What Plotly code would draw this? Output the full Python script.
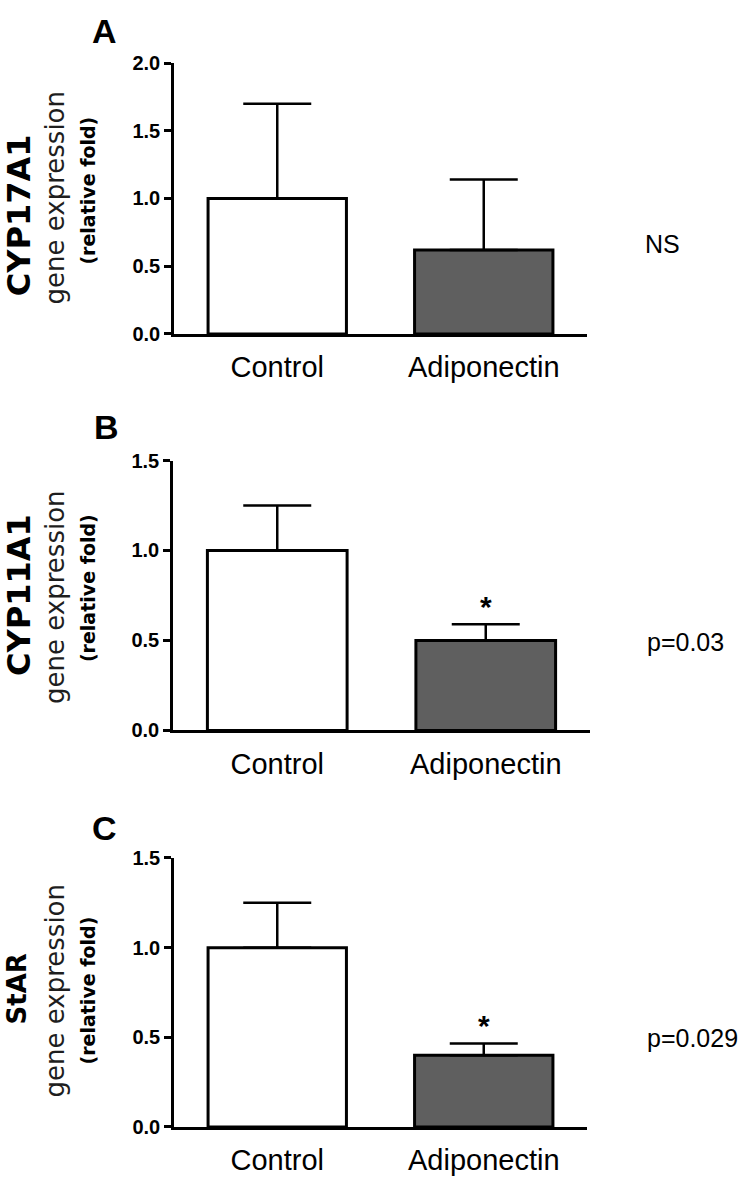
import plotly.graph_objects as go

W, H = 746, 1186

categories = ["Control", "Adiponectin"]
panel_letters = ["A", "B", "C"]
genes = ["CYP17A1", "CYP11A1", "StAR"]
means = {
    "CYP17A1": [1.00, 0.62],
    "CYP11A1": [1.00, 0.50],
    "StAR": [1.00, 0.40],
}
errors = {
    "CYP17A1": [0.70, 0.52],
    "CYP11A1": [0.25, 0.09],
    "StAR": [0.25, 0.065],
}
stars = {
    "CYP17A1": ["", ""],
    "CYP11A1": ["", "*"],
    "StAR": ["", "*"],
}
stats_text = ["NS", "p=0.03", "p=0.029"]
y_max = [2.0, 1.5, 1.5]
y_ticks = [[0.0, 0.5, 1.0, 1.5, 2.0], [0.0, 0.5, 1.0, 1.5], [0.0, 0.5, 1.0, 1.5]]

bar_colors = ["#ffffff", "#5f5f5f"]

# layout in pixels (left, right, top, bottom)
boxes = [(174, 587, 53, 329), (173, 590, 458, 733), (174, 587, 863, 1137)]
letter_pos = [(104, 20), (106, 424), (104, 832)]
title_pos = [
    [(19, 208), (55, 190), (88, 183)],
    [(19, 595), (55, 597), (88, 588)],
    [(17, 997), (55, 998), (88, 998)],
]
gene_font_size = [32, 32, 26]
stats_pos = [(643, 237), (645, 643), (645, 1046)]

FONT = "Liberation Sans, Arial, sans-serif"
WIDE = "DejaVu Sans, Verdana, sans-serif"

def px(x):
    return x / W

def py(y):
    return 1 - y / H

fig = go.Figure()
annotations = []
layout = {}

for i, gene in enumerate(genes):
    n = "" if i == 0 else str(i + 1)
    xa, ya = "x" + n, "y" + n
    l, r, t, b = boxes[i]
    fig.add_trace(go.Bar(
        x=categories, y=means[gene], xaxis=xa, yaxis=ya,
        width=0.67,
        marker=dict(color=bar_colors, line=dict(color="black", width=3)),
        error_y=dict(type="data", array=errors[gene], arrayminus=[0, 0], symmetric=False,
                     color="black", thickness=2.5, width=34),
        showlegend=False, hoverinfo="skip",
    ))
    layout["xaxis" + n] = dict(
        domain=[px(l), px(r)], anchor=ya, range=[-0.5, 1.5],
        showline=True, linecolor="black", linewidth=2.5, ticks="",
        tickfont=dict(family=FONT, size=29, color="black"),
        showgrid=False, zeroline=False, ticklabelstandoff=6,
    )
    layout["yaxis" + n] = dict(
        domain=[py(b), py(t)], anchor=xa, range=[0, y_max[i]],
        tickvals=y_ticks[i], ticktext=["%.1f" % v for v in y_ticks[i]],
        showline=True, linecolor="black", linewidth=2.5,
        ticks="outside", ticklen=7, tickwidth=2.5, tickcolor="black",
        tickfont=dict(family=FONT, size=20, color="black", weight="bold"),
        showgrid=False, zeroline=False,
    )
    # asterisks
    for j, s in enumerate(stars[gene]):
        if s:
            annotations.append(dict(
                x=categories[j], y=means[gene][j] + errors[gene][j], xref=xa, yref=ya,
                text="<b>" + s + "</b>", showarrow=False, yanchor="middle", yshift=18,
                font=dict(family=FONT, size=30, color="black"),
            ))
    # panel letter
    lx, ly = letter_pos[i]
    annotations.append(dict(x=px(lx), y=py(ly), xref="paper", yref="paper",
                            text="<b>" + panel_letters[i] + "</b>", showarrow=False,
                            xanchor="center", yanchor="middle",
                            font=dict(family=FONT, size=34, color="black")))
    # y titles
    (x1, y1), (x2, y2), (x3, y3) = title_pos[i]
    annotations.append(dict(x=px(x1), y=py(y1), xref="paper", yref="paper",
                            text="<b>" + gene + "</b>", showarrow=False, textangle=-90,
                            xanchor="center", yanchor="middle",
                            font=dict(family=WIDE, size=gene_font_size[i], color="black")))
    annotations.append(dict(x=px(x2), y=py(y2), xref="paper", yref="paper",
                            text="gene expression", showarrow=False, textangle=-90,
                            xanchor="center", yanchor="middle",
                            font=dict(family=WIDE, size=26, color="#1e1e1e")))
    annotations.append(dict(x=px(x3), y=py(y3), xref="paper", yref="paper",
                            text="<b>(relative fold)</b>", showarrow=False, textangle=-90,
                            xanchor="center", yanchor="middle",
                            font=dict(family=WIDE, size=19, color="black")))
    # stats text
    sx, sy = stats_pos[i]
    annotations.append(dict(x=px(sx), y=py(sy), xref="paper", yref="paper",
                            text=stats_text[i], showarrow=False,
                            xanchor="left", yanchor="middle",
                            font=dict(family=FONT, size=25, color="black")))

fig.update_layout(
    width=W, height=H,
    margin=dict(l=0, r=0, t=0, b=0),
    paper_bgcolor="white", plot_bgcolor="white",
    annotations=annotations, bargap=0.3,
    **layout,
)

fig.write_html("out.html", config={"displayModeBar": False},
               post_script="document.body.style.margin='0';document.body.style.overflow='hidden';")
